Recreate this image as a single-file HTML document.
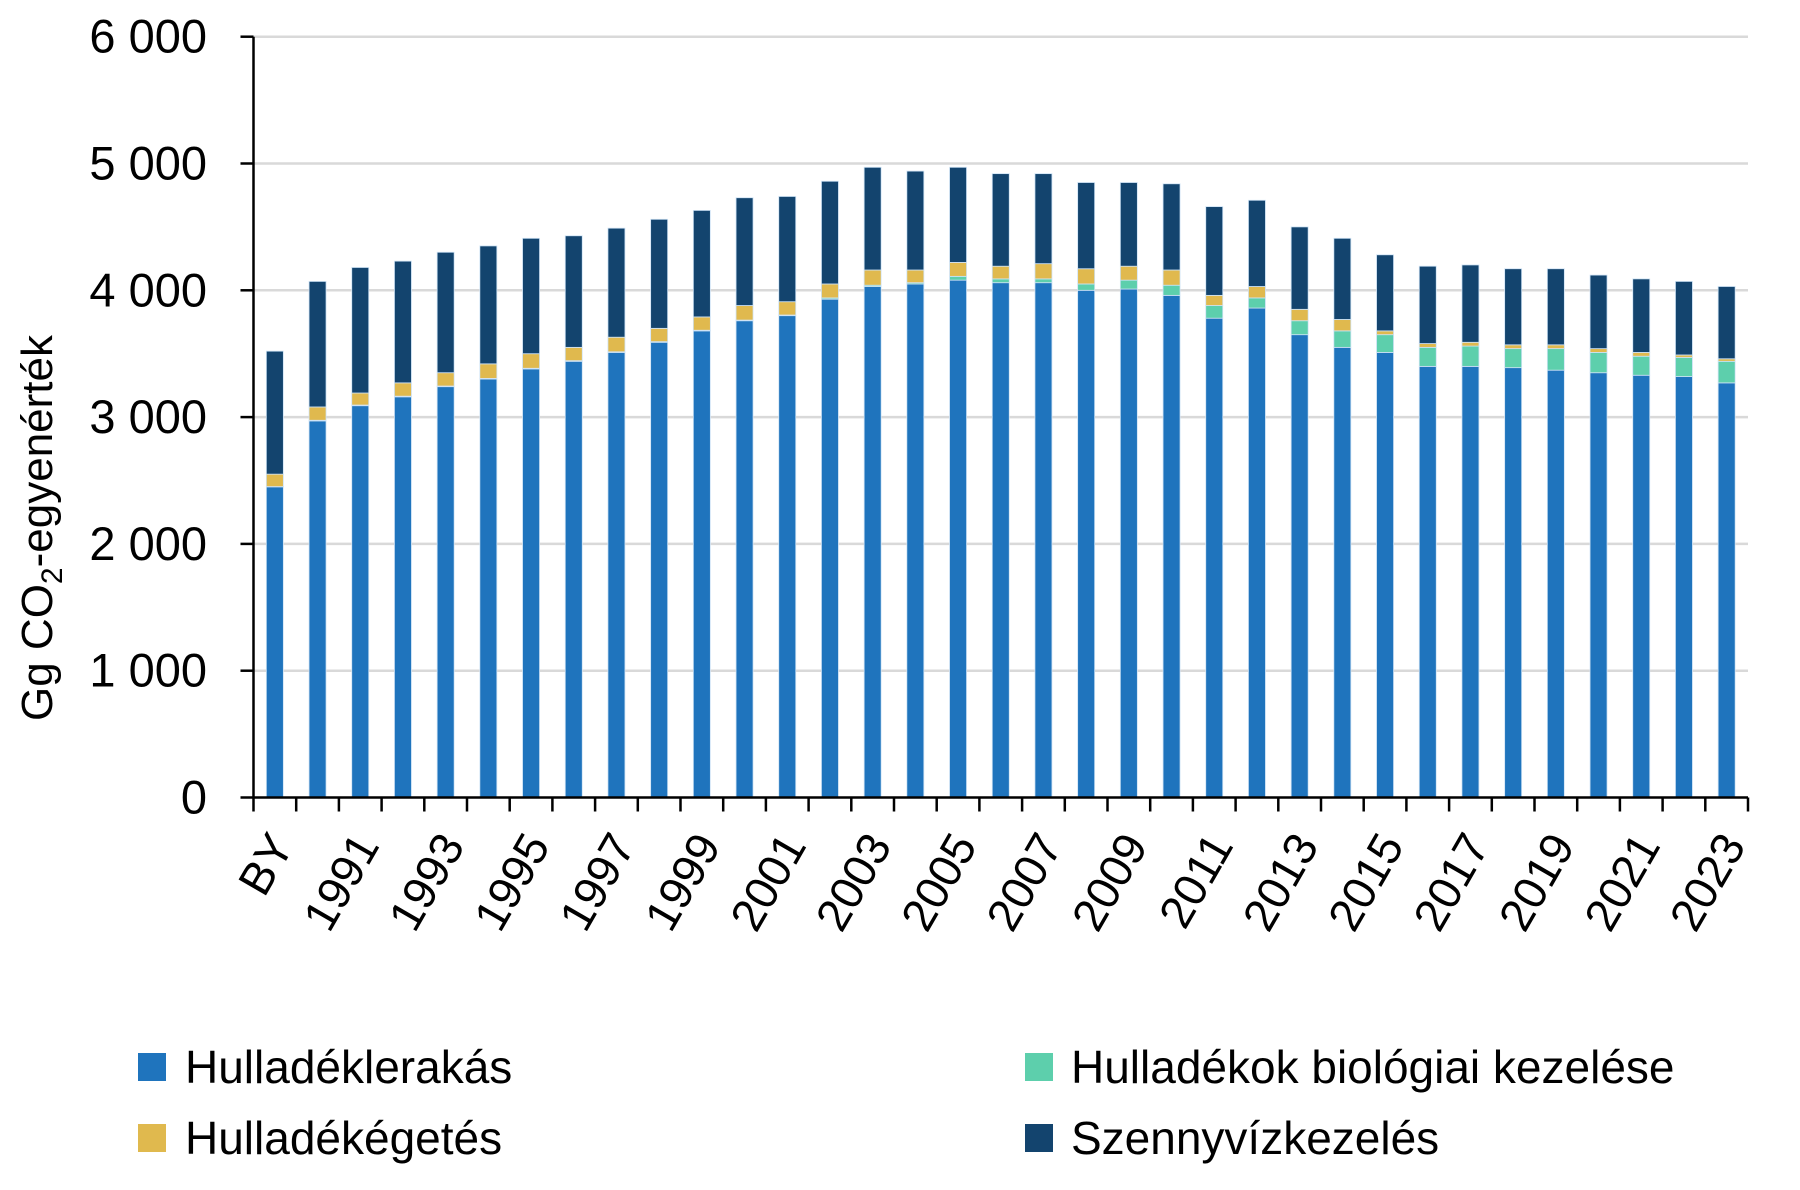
<!DOCTYPE html>
<html><head><meta charset="utf-8">
<style>
html,body{margin:0;padding:0;background:#fff;}
svg{display:block;font-family:"Liberation Sans",sans-serif;}
</style></head>
<body>
<svg id="c" width="1800" height="1190" xmlns="http://www.w3.org/2000/svg">
<rect width="1800" height="1190" fill="#fff"/>
<g id="grid"></g>
<g id="bars"></g>
<g id="axes"></g>
<text x="0" y="0" transform="translate(52,528) rotate(-90)" text-anchor="middle" font-size="44" fill="#000">Gg CO<tspan font-size="30" dy="10">2</tspan><tspan dy="-10">-egyenérték</tspan></text>
<rect x="138" y="1053" width="28" height="28" fill="#1f74bd"/>
<text x="185" y="1083" font-size="46">Hulladéklerakás</text>
<rect x="138" y="1124" width="28" height="28" fill="#e0b94e"/>
<text x="185" y="1154" font-size="46">Hulladékégetés</text>
<rect x="1025" y="1053" width="28" height="28" fill="#5dcfac"/>
<text x="1071" y="1083" font-size="46">Hulladékok biológiai kezelése</text>
<rect x="1025" y="1124" width="28" height="28" fill="#13446e"/>
<text x="1071" y="1154" font-size="46">Szennyvízkezelés</text>
</svg>
<script>
var NS="http://www.w3.org/2000/svg";
function el(p,t,a,txt){var e=document.createElementNS(NS,t);for(var k in a)e.setAttribute(k,a[k]);if(txt!=null)e.textContent=txt;p.appendChild(e);return e;}
var x0=253.5,x1=1748,y0=797.5,py=126.8/1000;
function Y(v){return y0-v*py;}
var grid=document.getElementById('grid'),axes=document.getElementById('axes'),bars=document.getElementById('bars');
for(var i=0;i<=6;i++){var y=Y(i*1000);
 if(i>0)el(grid,'line',{x1:x0,x2:x1,y1:y,y2:y,stroke:'#d9d9d9','stroke-width':2.5});
 el(axes,'line',{x1:x0-13,x2:x0,y1:y,y2:y,stroke:'#000','stroke-width':2.5});
 el(axes,'text',{x:207,y:y+16,'text-anchor':'end','font-size':47},i==0?'0':i+' 000');
}
el(axes,'line',{x1:x0,x2:x0,y1:Y(6000),y2:y0+1,stroke:'#000','stroke-width':2.5});
el(axes,'line',{x1:x0,x2:x1,y1:y0,y2:y0,stroke:'#000','stroke-width':2.5});
var d=[[2450,2452,2550,3520],[2970,2975,3080,4070],[3090,3095,3190,4180],[3160,3165,3270,4230],[3240,3245,3350,4300],[3300,3305,3420,4350],[3380,3385,3500,4410],[3440,3445,3550,4430],[3510,3515,3630,4490],[3590,3595,3700,4560],[3680,3685,3790,4630],[3760,3765,3880,4730],[3800,3805,3910,4740],[3930,3940,4050,4860],[4030,4040,4160,4970],[4050,4060,4160,4940],[4080,4110,4220,4970],[4060,4090,4190,4920],[4060,4090,4210,4920],[4000,4050,4170,4850],[4010,4080,4190,4850],[3960,4040,4160,4840],[3780,3880,3960,4660],[3860,3940,4030,4710],[3650,3760,3850,4500],[3550,3680,3770,4410],[3510,3650,3680,4280],[3400,3550,3580,4190],[3400,3560,3590,4200],[3390,3540,3570,4170],[3370,3540,3570,4170],[3350,3510,3540,4120],[3330,3480,3510,4090],[3320,3470,3490,4070],[3270,3440,3460,4030]];
var n=d.length,cw=(x1-x0)/n,bw=17;
var cols=['#1f74bd','#5dcfac','#e0b94e','#13446e'];
for(var i=0;i<n;i++){var cx=x0+cw*(i+0.5),prev=0;
 for(var j=0;j<4;j++){var v=d[i][j];if(v>prev){el(bars,'rect',{x:cx-bw/2,y:Y(v),width:bw,height:Y(prev)-Y(v),fill:cols[j],stroke:'#cfe3f5','stroke-width':0.8});}prev=v;}
 var tx=x0+cw*i;el(axes,'line',{x1:tx,x2:tx,y1:y0,y2:y0+14,stroke:'#000','stroke-width':2.5});
 if(i%2==0){var lab=i==0?'BY':String(1989+i);
  el(axes,'text',{transform:'translate('+(cx+20)+','+(y0+48)+') rotate(-60)','text-anchor':'end','font-size':46},lab);}
}
el(axes,'line',{x1:x1,x2:x1,y1:y0,y2:y0+14,stroke:'#000','stroke-width':2.5});
</script>
</body></html>
